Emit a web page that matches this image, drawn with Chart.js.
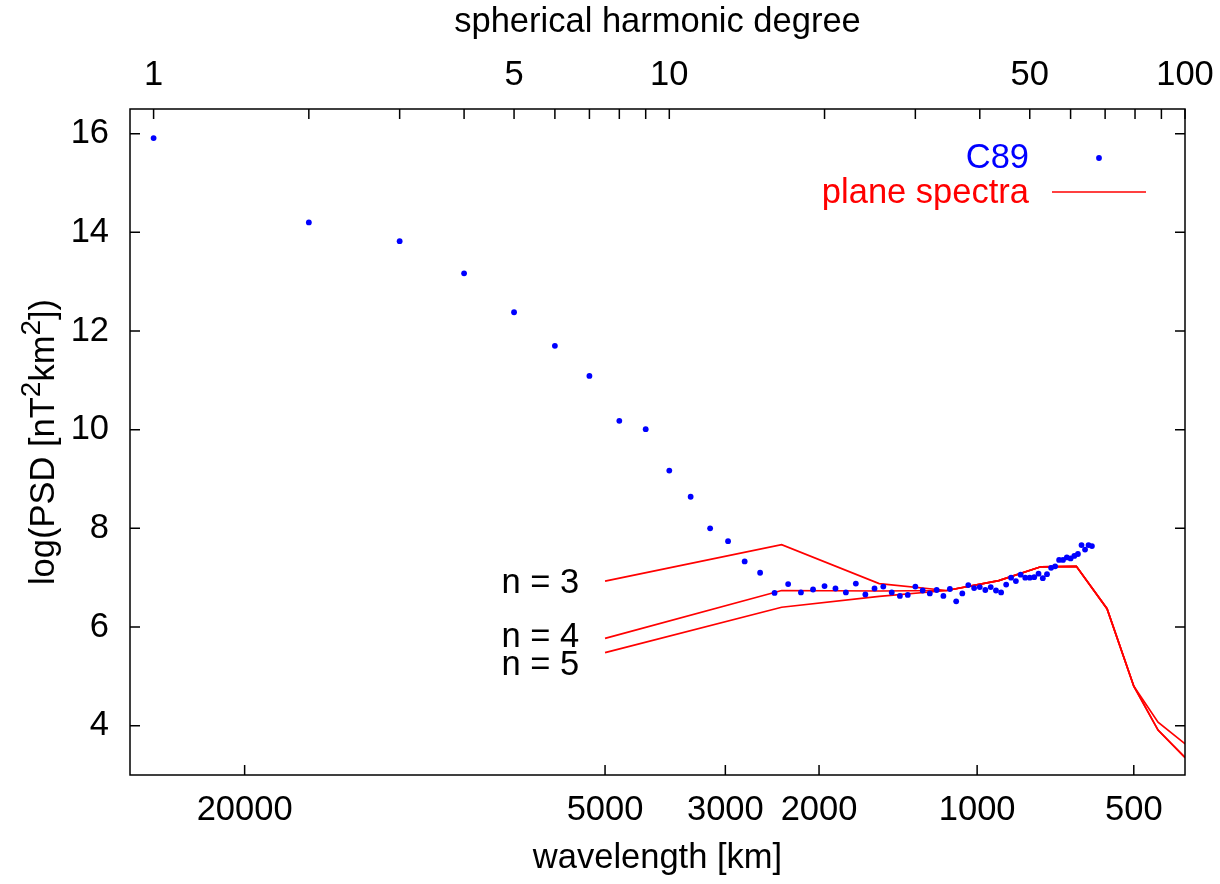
<!DOCTYPE html>
<html>
<head>
<meta charset="utf-8">
<script src="https://cdn.jsdelivr.net/npm/chart.js@4/dist/chart.umd.min.js"></script>
<style>
  html, body { margin: 0; padding: 0; background: #fff; }
</style>
</head>
<body>
<canvas id="psdChart" width="1220" height="884"></canvas>
<script>
// circumference used to turn wavelength into spherical harmonic degree
const earthCircumference = 40030; // km

// C89 spectrum, one point per degree
const c89Degree = [
  1, 2, 3, 4, 5, 6, 7, 8, 9, 10, 11, 12, 13, 14, 15, 16, 17, 18, 19, 20, 21, 22,
  23, 24, 25, 26, 27, 28, 29, 30, 31, 32, 33, 34, 35, 36, 37, 38, 39, 40, 41, 42, 43, 44,
  45, 46, 47, 48, 49, 50, 51, 52, 53, 54, 55, 56, 57, 58, 59, 60, 61, 62, 63, 64, 65, 66
];
const c89LogPsd = [
  15.91, 14.20, 13.82, 13.17, 12.38, 11.70, 11.09, 10.18, 10.01, 9.17, 8.64, 8.00, 7.74, 7.33,
  7.10, 6.69, 6.87, 6.70, 6.76, 6.83, 6.78, 6.70, 6.88, 6.66, 6.78, 6.82, 6.70, 6.63, 6.65,
  6.82, 6.74, 6.68, 6.75, 6.63, 6.77, 6.52, 6.68, 6.85, 6.79, 6.81, 6.75, 6.81, 6.74, 6.70,
  6.86, 7.00, 6.93, 7.06, 7.00, 7.00, 7.01, 7.08, 6.99, 7.07, 7.20, 7.23, 7.36, 7.36, 7.41,
  7.39, 7.44, 7.48, 7.66, 7.57, 7.66, 7.64
];

// plane spectra, given at wavelengths in km
const planeWavelength = [5000, 2353, 1538, 1143, 909, 755, 645, 563, 500, 449, 398];
const planeN3 = [6.93, 7.67, 6.88, 6.74, 6.94, 7.22, 7.23, 6.37, 4.80, 4.07, 3.63];
const planeN4 = [5.77, 6.74, 6.73, 6.74, 6.94, 7.22, 7.23, 6.37, 4.80, 3.91, 3.35];
const planeN5 = [5.48, 6.40, 6.62, 6.74, 6.94, 7.22, 7.23, 6.37, 4.80, 3.91, 3.35];
const planeNames = ['n = 3', 'n = 4', 'n = 5'];

// axis ticks
const degreeTicks = [1, 2, 3, 4, 5, 6, 7, 8, 9, 10, 20, 30, 40, 50, 60, 70, 80, 90, 100];
const degreeLabels = [1, 5, 10, 50, 100];
const wavelengthTicks = [20000, 5000, 3000, 2000, 1000, 500];
const psdTicks = [4, 6, 8, 10, 12, 14, 16];

const toDegree = (km) => earthCircumference / km - 0.5;

const FONT = { family: 'Liberation Sans', size: 34.5 };
const TICK = 10;

const planeSet = (name, vals) => ({
  type: 'line',
  label: name,
  data: planeWavelength.map((km, i) => ({ x: toDegree(km), y: vals[i] })),
  borderColor: '#ff0000',
  borderWidth: 1.7,
  pointRadius: 0,
  fill: false,
  tension: 0
});

// no extra room for overhanging tick labels
const fitH = h => s => { s.height = h; s.paddingLeft = 0; s.paddingRight = 0; };

// border with inward ticks, like gnuplot
const frameTicks = {
  id: 'frameTicks',
  afterDatasetsDraw(chart) {
    const { ctx, chartArea: { left, right, top, bottom }, scales } = chart;
    ctx.save();
    ctx.strokeStyle = '#000';
    ctx.lineWidth = 1.5;
    ctx.strokeRect(left, top, right - left, bottom - top);
    ctx.beginPath();
    scales.x.ticks.forEach(t => {
      const px = scales.x.getPixelForValue(t.value);
      ctx.moveTo(px, top); ctx.lineTo(px, top + TICK);
    });
    scales.x2.ticks.forEach(t => {
      const px = scales.x2.getPixelForValue(t.value);
      ctx.moveTo(px, bottom); ctx.lineTo(px, bottom - TICK);
    });
    scales.y.ticks.forEach(t => {
      const py = scales.y.getPixelForValue(t.value);
      ctx.moveTo(left, py); ctx.lineTo(left + TICK, py);
      ctx.moveTo(right, py); ctx.lineTo(right - TICK, py);
    });
    ctx.stroke();
    ctx.restore();
  }
};

// y label with real superscripts (gnuplot enhanced text style)
const yLabel = {
  id: 'yLabel',
  afterDraw(chart) {
    const { ctx, chartArea: { top, bottom } } = chart;
    const parts = [['log(PSD [nT', 0], ['2', 1], ['km', 0], ['2', 1], ['])', 0]];
    const big = FONT.size + 'px ' + FONT.family;
    const small = Math.round(FONT.size * 0.8) + 'px ' + FONT.family;
    ctx.save();
    let w = 0;
    parts.forEach(([t, sup]) => { ctx.font = sup ? small : big; w += ctx.measureText(t).width; });
    ctx.translate(54, (top + bottom) / 2);
    ctx.rotate(-Math.PI / 2);
    ctx.textBaseline = 'alphabetic';
    ctx.textAlign = 'left';
    ctx.fillStyle = '#000';
    let x = -w / 2;
    parts.forEach(([t, sup]) => {
      ctx.font = sup ? small : big;
      ctx.fillText(t, x, sup ? -FONT.size * 0.42 : 0);
      x += ctx.measureText(t).width;
    });
    ctx.restore();
  }
};

// key in the upper right corner + curve names
const keyAndNames = {
  id: 'keyAndNames',
  afterDatasetsDraw(chart) {
    const { ctx, chartArea: { right, top }, scales } = chart;
    ctx.save();
    ctx.font = FONT.size + 'px ' + FONT.family;
    ctx.textAlign = 'right';
    ctx.textBaseline = 'middle';

    const textX = right - 156;
    ctx.fillStyle = '#0000ff';
    ctx.fillText('C89', textX, top + 49);
    ctx.beginPath();
    ctx.arc(right - 86, top + 49, 2.9, 0, Math.PI * 2);
    ctx.fill();

    ctx.fillStyle = '#ff0000';
    ctx.fillText('plane spectra', textX, top + 84);
    ctx.strokeStyle = '#ff0000';
    ctx.lineWidth = 1.7;
    ctx.beginPath();
    ctx.moveTo(right - 133, top + 83);
    ctx.lineTo(right - 39, top + 83);
    ctx.stroke();

    // curve labels, right aligned just left of where the lines start
    const spots = [6.88, 5.79, 5.22];
    ctx.fillStyle = '#000';
    planeNames.forEach((name, i) => {
      ctx.fillText(name, scales.x.getPixelForValue(6.69), scales.y.getPixelForValue(spots[i]));
    });
    ctx.restore();
  }
};

Chart.defaults.font.family = FONT.family;
Chart.defaults.color = '#000';

new Chart(document.getElementById('psdChart'), {
  type: 'scatter',
  data: {
    datasets: [
      {
        label: 'C89',
        data: c89Degree.map((n, i) => ({ x: n, y: c89LogPsd[i] })),
        backgroundColor: '#0000ff',
        borderWidth: 0,
        pointRadius: 2.9,
        pointHoverRadius: 2.9
      },
      planeSet(planeNames[0], planeN3),
      planeSet(planeNames[1], planeN4),
      planeSet(planeNames[2], planeN5)
    ]
  },
  options: {
    responsive: false,
    animation: false,
    devicePixelRatio: 1,
    layout: { padding: { left: 0, right: 35, top: 0, bottom: 0 } },
    plugins: {
      legend: { display: false },
      tooltip: { enabled: false }
    },
    scales: {
      x: {
        type: 'logarithmic',
        position: 'top',
        min: 0.9,
        max: 100,
        grid: { display: false, drawTicks: false, tickLength: 0 },
        border: { display: false },
        afterBuildTicks: s => { s.ticks = degreeTicks.map(v => ({ value: v })); },
        afterFit: fitH(109),
        ticks: {
          autoSkip: false,
          maxRotation: 0,
          padding: 13,
          font: FONT,
          callback: v => degreeLabels.includes(v) ? String(v) : ''
        },
        title: {
          display: true,
          text: 'spherical harmonic degree',
          font: FONT,
          padding: { top: 2, bottom: 0 }
        }
      },
      x2: {
        type: 'logarithmic',
        position: 'bottom',
        min: 0.9,
        max: 100,
        grid: { display: false, drawTicks: false, tickLength: 0 },
        border: { display: false },
        afterBuildTicks: s => { s.ticks = wavelengthTicks.map(km => ({ value: toDegree(km) })); },
        afterFit: fitH(109),
        ticks: {
          autoSkip: false,
          maxRotation: 0,
          padding: 15,
          font: FONT,
          callback: (v, i) => String(wavelengthTicks[i])
        },
        title: {
          display: true,
          text: 'wavelength [km]',
          font: FONT,
          padding: { top: 0, bottom: 5 }
        }
      },
      y: {
        type: 'linear',
        position: 'left',
        min: 3,
        max: 16.5,
        grid: { display: false, drawTicks: false, tickLength: 0 },
        border: { display: false },
        afterBuildTicks: s => { s.ticks = psdTicks.map(v => ({ value: v })); },
        afterFit: s => { s.width = 130; s.paddingTop = 0; s.paddingBottom = 0; },
        ticks: {
          autoSkip: false,
          padding: 21,
          font: FONT
        },
        title: { display: false }
      }
    }
  },
  plugins: [frameTicks, keyAndNames, yLabel]
});
</script>
</body>
</html>
